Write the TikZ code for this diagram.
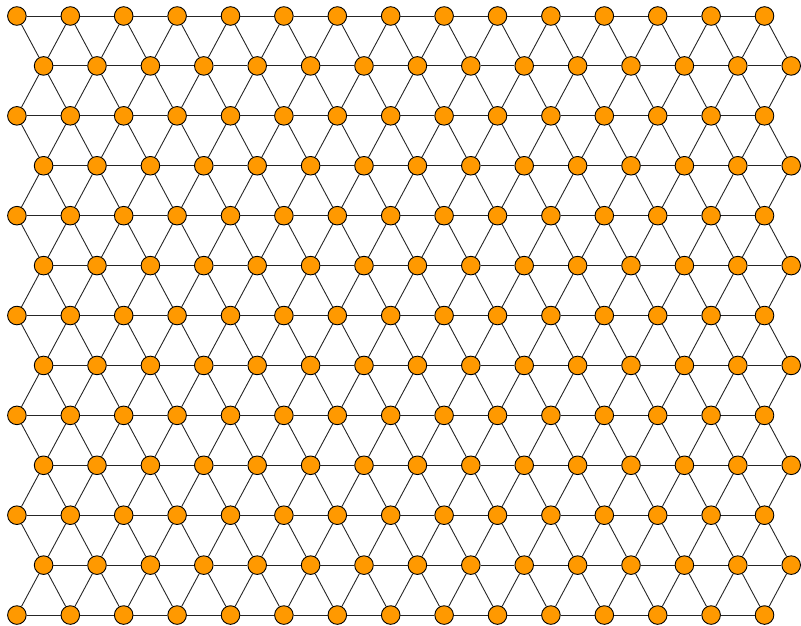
\documentclass[tikz,border=0pt]{standalone}
\definecolor{vorange}{RGB}{255,153,0}
\begin{document}
\begin{tikzpicture}[x=1pt,y=1pt,
  vtx/.style={circle,draw=black,fill=vorange,line width=0.9pt,minimum size=18.6pt,inner sep=0pt},
  edge/.style={draw=black!85,line width=0.9pt}]
\useasboundingbox (0,0) rectangle (801,-626);
\foreach \r in {0,...,12}{
  \pgfmathsetmacro{\yy}{-(16+49.92*\r)}
  \pgfmathtruncatemacro{\odd}{mod(\r,2)}
  \foreach \c in {0,...,14}{
    \pgfmathsetmacro{\xx}{16.9+26.7*\odd+53.4*\c}
    \node[vtx] (n-\r-\c) at (\xx,\yy) {};
  }
}
\begin{scope}[on background layer/.style={}]
\foreach \r in {0,...,12}{
  \foreach \c [count=\d] in {0,...,13}{
    \draw[edge] (n-\r-\c) -- (n-\r-\d);
  }
}
\foreach \r [count=\s] in {0,...,11}{
  \pgfmathtruncatemacro{\odd}{mod(\r,2)}
  \foreach \c in {0,...,14}{
    \draw[edge] (n-\r-\c) -- (n-\s-\c);
    \ifnum\odd=0
      \ifnum\c>0 \pgfmathtruncatemacro{\e}{\c-1}\draw[edge] (n-\r-\c) -- (n-\s-\e);\fi
    \else
      \ifnum\c<14 \pgfmathtruncatemacro{\e}{\c+1}\draw[edge] (n-\r-\c) -- (n-\s-\e);\fi
    \fi
  }
}
\end{scope}
\end{tikzpicture}
\end{document}
